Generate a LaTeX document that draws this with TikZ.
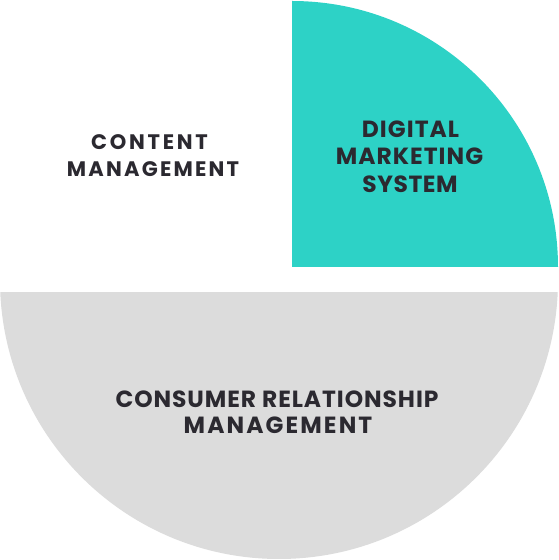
\documentclass[tikz,border=0pt]{standalone}
\usepackage{fontspec}
\setmainfont{Poppins}
\definecolor{tealc}{HTML}{2DD2C6}
\definecolor{greyc}{HTML}{DCDCDC}
\definecolor{txtc}{HTML}{2B2930}
\begin{document}
\begin{tikzpicture}[x=1pt,y=1pt,
  lbl/.style 2 args={anchor=base,inner sep=0pt,text=txtc,
    font=\bfseries\fontsize{#1}{#1}\selectfont\addfontfeature{LetterSpace=#2}}]
\useasboundingbox (0,0) rectangle (559,560);
\fill[tealc] (292,293) -- (292,559) arc[start angle=90,end angle=0,radius=266] -- cycle;
\begin{scope}
\clip (0,0) rectangle (559,267);
\fill[greyc] (279,280) circle[radius=279];
\end{scope}
\node[lbl={21}{13}] (c1) at (149.5,410) {CONTENT};
\node[lbl={21}{10.5}] (c2) at (153,383.3) {MANAGEMENT};
\node[lbl={23.4}{4.5}] (d1) at (410.5,422) {DIGITAL};
\node[lbl={23.4}{4.3}] (d2) at (409.5,395) {MARKETING};
\node[lbl={23.4}{2.5}] (d3) at (410,367) {SYSTEM};
\node[lbl={23.4}{4}] (r1) at (277,152) {CONSUMER RELATIONSHIP};
\node[lbl={23.4}{9}] (r2) at (278,126) {MANAGEMENT};
\end{tikzpicture}
\end{document}
